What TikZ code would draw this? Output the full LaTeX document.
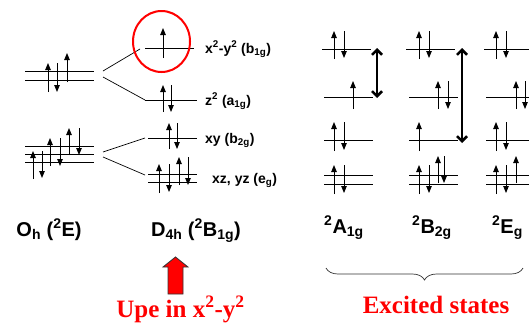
\documentclass[tikz,border=0pt]{standalone}
\usepackage{fontspec}
\setmainfont{Liberation Sans}
\newfontfamily\notefont{Liberation Serif}
\usepackage{xcolor}
\definecolor{NoteRed}{HTML}{FF0000}
\definecolor{EdgeGray}{HTML}{333333}
\usepackage{tikz}
\usetikzlibrary{arrows.meta, decorations.pathreplacing}

\begin{document}
\begin{tikzpicture}[x=1pt, y=-1pt,
  orb/.style={line width=1pt},
  spin/.style={line width=0.9pt, -{Triangle[length=7pt, width=5.5pt]}},
  corr/.style={line width=0.7pt},
  trans/.style={line width=2.5pt, {Straight Barb[length=5pt, width=10pt]}-{Straight Barb[length=5pt, width=10pt]}},
  lab/.style={font=\fontsize{14}{16}\selectfont\bfseries, anchor=base west, inner sep=0pt},
  sym/.style={font=\fontsize{20}{22}\selectfont\bfseries, anchor=base, inner sep=0pt},
  note/.style={font=\notefont\fontsize{25}{28}\selectfont\bfseries, NoteRed, anchor=base, inner sep=0pt}]
  \useasboundingbox (0,0) rectangle (529,322);

  % Orbital levels (x start / x end / y)
  \foreach \xa/\xb/\y in {25/94/71, 25/94/80, 25/94/146, 25/94/154, 25/94/162,
      145/194/48, 145/197/100, 148/197/138, 148/197/174, 148/197/182,
      322/371/49, 324/373/97, 324/373/140, 324/373/175, 324/373/184,
      406/455/49, 409/458/97, 409/458/140, 409/458/175, 409/458/184,
      484/530/49, 486/530/97, 486/530/140, 486/530/175, 486/530/184}
    \draw[orb] (\xa,\y) -- (\xb,\y);

  % Electrons (x / from / to)
  \foreach \x/\ya/\yb in {48/92/63, 57/63/92, 67/82/53,
      33/179/151, 42/151/178, 50/166/138, 60/138/166, 69/155/128, 79/128/155,
      163/58/28, 163/112/85, 171/85/112, 169/149/123, 177/123/149,
      159/193/164, 169/164/192, 179/185/157, 188/157/185,
      334/59/31, 344/31/58, 353/109/81, 334/151/122, 344/122/150, 334/194/165, 344/165/193,
      419/59/31, 429/31/58, 438/109/81, 448/81/109, 419/151/122,
      419/194/165, 429/165/193, 438/183/156, 444/156/183,
      496/59/31, 506/31/58, 516/109/81, 525/81/109, 496/151/122, 506/122/150,
      496/194/165, 506/165/193, 516/183/156}
    \draw[spin] (\x,\ya) -- (\x,\yb);

  % Correlation lines
  \coordinate (ohE-up) at (103,71);
  \coordinate (ohE-dn) at (103,77);
  \coordinate (ohT-up) at (103,152);
  \coordinate (ohT-dn) at (103,157);
  \coordinate (b1g-l) at (140,49);
  \coordinate (a1g-l) at (145,100);
  \coordinate (b2g-l) at (145,138);
  \coordinate (eg-l) at (145,175);
  \draw[corr] (ohE-up) -- (b1g-l);
  \draw[corr] (ohE-dn) -- (a1g-l);
  \draw[corr] (ohT-up) -- (b2g-l);
  \draw[corr] (ohT-dn) -- (eg-l);

  % Singly occupied orbital
  \draw[NoteRed, line width=2pt] (161.5,41.5) ellipse [x radius=28.5, y radius=30.5];

  % Level labels
  \node[lab] (b1g) at (205,53) {x\textsuperscript{2}-y\textsuperscript{2} (b\textsubscript{1g})};
  \node[lab] (a1g) at (205,105) {z\textsuperscript{2} (a\textsubscript{1g})};
  \node[lab] (b2g) at (205,143) {xy (b\textsubscript{2g})};
  \node[lab] (eg) at (212,183) {xz, yz (e\textsubscript{g})};

  % Transitions
  \coordinate (trA-t) at (377,48);
  \coordinate (trA-b) at (377,98);
  \coordinate (trB-t) at (462,48);
  \coordinate (trB-b) at (462,143);
  \draw[trans] (trA-t) -- (trA-b);
  \draw[trans] (trB-t) -- (trB-b);

  % State labels
  \node[sym] (oh) at (49,236) {O\textsubscript{h} (\textsuperscript{2}E)};
  \node[sym] (d4h) at (196,236) {D\textsubscript{4h} (\textsuperscript{2}B\textsubscript{1g})};
  \node[sym] (sA) at (344,233) {\textsuperscript{2}A\textsubscript{1g}};
  \node[sym] (sB) at (432,233) {\textsuperscript{2}B\textsubscript{2g}};
  \node[sym, anchor=base west] (sE) at (492,233) {\textsuperscript{2}E\textsubscript{g}};

  % Red arrow and notes
  \filldraw[fill=NoteRed, draw=EdgeGray, line width=0.8pt]
    (168,294) -- (168,267) -- (163,267) -- (175.5,257) -- (188,267) -- (183,267) -- (183,294) -- cycle;
  \node[note] (upe) at (180.5,317) {Upe in x\textsuperscript{2}-y\textsuperscript{2}};
  \draw[EdgeGray, line width=0.7pt, decorate, decoration={brace, mirror, amplitude=12pt}]
    (326,268) -- (523,268);
  \node[note] (exc) at (436,313) {Excited states};
\end{tikzpicture}
\end{document}
